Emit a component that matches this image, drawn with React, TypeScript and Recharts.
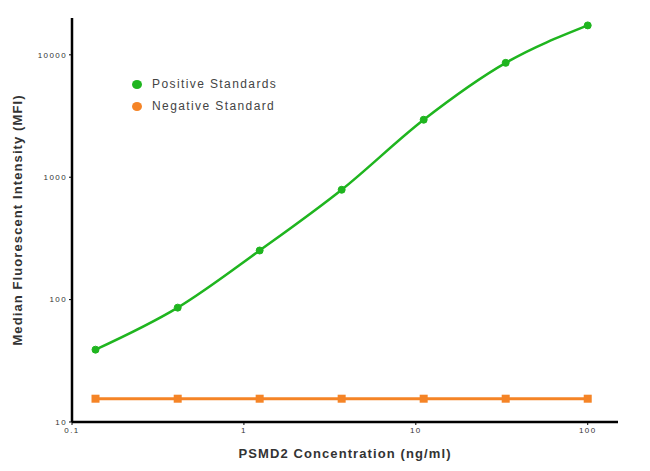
import React from "react";
import { LineChart, Line, XAxis, YAxis } from "recharts";

const concentrations = [0.137, 0.412, 1.235, 3.704, 11.11, 33.33, 100];
const positiveMFI = [39, 86, 252, 790, 2950, 8600, 17400];
const negativeMFI = [15.5, 15.5, 15.5, 15.5, 15.5, 15.5, 15.5];
const xTicks = [0.1, 1, 10, 100];
const yTicks = [10, 100, 1000, 10000];
const seriesNames = ["Positive Standards", "Negative Standard"];

const GREEN = "#1fb51f";
const ORANGE = "#f58426";
const FONT = "Arial, 'Liberation Sans', sans-serif";

const data = concentrations.map((c, i) => ({
  x: c,
  pos: positiveMFI[i],
  neg: negativeMFI[i],
}));

const SquareDot = (props: any) => {
  const { cx, cy, index } = props;
  if (cx == null || cy == null) return null;
  return <rect key={"sq" + index} x={cx - 4} y={cy - 4} width={8} height={8} fill={ORANGE} />;
};

const fmt = (v: number) => String(v);

const tickStyle = { fontSize: 8, fill: "#333", fontFamily: FONT, letterSpacing: 1.4 };
const labelStyle = { fontSize: 13, fontWeight: "bold", fill: "#333", fontFamily: FONT, letterSpacing: 1.1 };

export default function App() {
  return (
    <div style={{ position: "absolute", left: 0, top: 0, width: 650, height: 471, background: "#fff" }}>
      <LineChart width={650} height={471} data={data} margin={{ top: 18, right: 32, bottom: 19, left: 22 }}>
        <XAxis
          dataKey="x"
          type="number"
          scale="log"
          domain={[0.1, 150]}
          ticks={xTicks}
          allowDataOverflow
          tickFormatter={fmt}
          height={30}
          axisLine={{ stroke: "#000", strokeWidth: 2.5 }}
          tickLine={{ stroke: "#000", strokeWidth: 1 }}
          tickSize={3}
          tick={tickStyle}
          label={{
            value: "PSMD2 Concentration (ng/ml)",
            position: "insideBottom",
            offset: -6,
            style: labelStyle,
          }}
        />
        <YAxis
          type="number"
          scale="log"
          domain={[10, 20000]}
          ticks={yTicks}
          allowDataOverflow
          tickFormatter={fmt}
          width={50}
          axisLine={{ stroke: "#000", strokeWidth: 2.5 }}
          tickLine={{ stroke: "#000", strokeWidth: 1 }}
          tickSize={3}
          tick={tickStyle}
          label={{
            value: "Median Fluorescent Intensity (MFI)",
            angle: -90,
            position: "insideLeft",
            offset: -5,
            style: { ...labelStyle, textAnchor: "middle" },
          }}
        />
        <Line
          dataKey="neg"
          name={seriesNames[1]}
          type="linear"
          stroke={ORANGE}
          strokeWidth={3}
          dot={<SquareDot />}
          isAnimationActive={false}
        />
        <Line
          dataKey="pos"
          name={seriesNames[0]}
          type="monotone"
          stroke={GREEN}
          strokeWidth={2.5}
          dot={{ r: 3.5, fill: GREEN, stroke: GREEN, strokeWidth: 1 }}
          isAnimationActive={false}
        />
      </LineChart>
      <div style={{ position: "absolute", left: 132, top: 73, fontFamily: FONT, fontSize: 12, color: "#444", letterSpacing: 1.4 }}>
        {seriesNames.map((n, i) => (
          <div key={n} style={{ display: "flex", alignItems: "center", height: 22 }}>
            <span
              style={{
                display: "inline-block",
                width: 10,
                height: 9,
                borderRadius: "50%",
                background: i === 0 ? GREEN : ORANGE,
                marginRight: 10,
              }}
            />
            {n}
          </div>
        ))}
      </div>
    </div>
  );
}
